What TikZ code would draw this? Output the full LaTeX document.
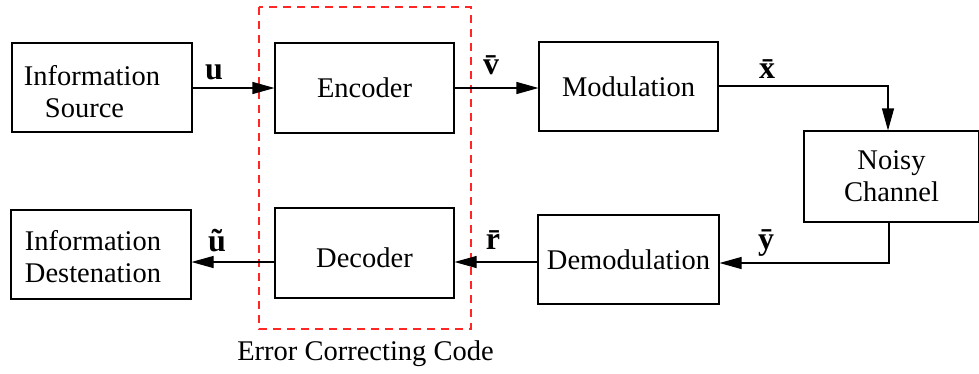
\documentclass[tikz,border=0pt]{standalone}
\usepackage{fontspec}
\setmainfont{Liberation Serif}
\usetikzlibrary{arrows.meta}
\begin{document}
\begin{tikzpicture}[x=1pt,y=-1pt,
  blk/.style={draw, line width=1.1pt, minimum width=#1, align=center, inner sep=0pt, font=\fontsize{28.5}{32}\selectfont},
  blk/.default=180pt,
  txt/.style={align=center, inner sep=0pt, font=\fontsize{28.5}{32}\selectfont},
  lbl/.style={font=\fontsize{32}{34}\selectfont\bfseries, inner sep=0pt},
  conn/.style={line width=1.1pt, -{Triangle[length=22pt,width=12pt]}},
  ecc/.style={draw=red!85!white, line width=1.1pt, dash pattern=on 8pt off 6pt}
]
\useasboundingbox (0,0) rectangle (979,373);
\node[blk=180pt, minimum height=89pt] (src) at (102,87.5) {};
\node[txt] (srctxt) at (92,92) {Information\\\hspace*{-15pt}Source};
\node[blk=179pt, minimum height=90pt] (enc) at (364.5,88) {Encoder};
\node[blk=179pt, minimum height=89pt] (mod) at (628.5,86.5) {Modulation};
\node[blk=175pt, minimum height=91pt] (nc) at (891.5,176.5) {Noisy\\Channel};
\node[blk=181pt, minimum height=89pt] (dem) at (628.5,259.5) {Demodulation};
\node[blk=179pt, minimum height=90pt] (dec) at (364.5,253) {};
\node[txt] (dectxt) at (364.5,258) {Decoder};
\node[blk=180pt, minimum height=89pt] (dst) at (101,254.5) {};
\node[txt] (dsttxt) at (93,257) {Information\\Destenation};
\draw[ecc] (259,7) rectangle (471,329);
\node[txt] (ecclbl) at (365.5,354) {Error Correcting Code};
\coordinate (c1) at (888,86);
\coordinate (c2) at (889,263);
\draw[conn] (src.east |- 0,88) -- (enc.west |- 0,88);
\draw[conn] (enc.east |- 0,88) -- (mod.west |- 0,88);
\draw[conn] (mod.east |- c1) -- (c1) -- (c1 |- nc.north);
\draw[conn] (c2 |- nc.south) -- (c2) -- (dem.east |- c2);
\draw[conn] (dem.west |- 0,262) -- (dec.east |- 0,262);
\draw[conn] (dec.west |- 0,262) -- (dst.east |- 0,262);
\node[lbl] (lu) at (214,72) {u};
\node[lbl] (lv) at (491,65) {\=v};
\node[lbl] (lx) at (767,69) {\=x};
\node[lbl] (ly) at (766,243) {\=y};
\node[lbl] (lr) at (493,240) {\=r};
\node[lbl] (lut) at (217,241) {\~u};
\end{tikzpicture}
\end{document}
